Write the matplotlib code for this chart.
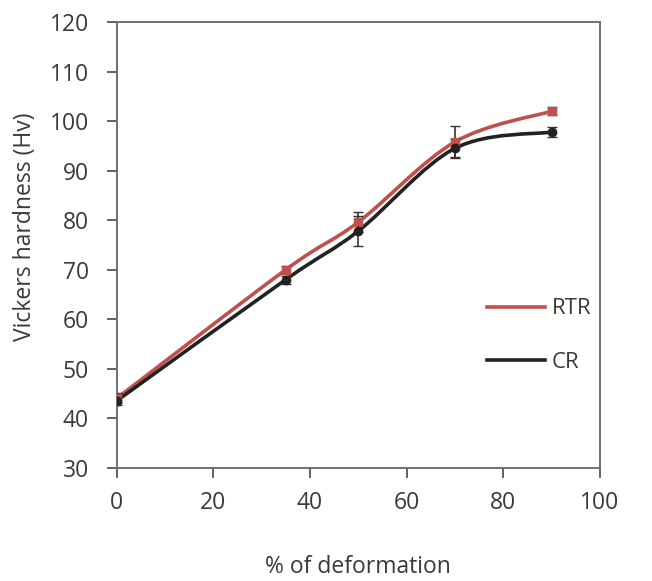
import numpy as np
import matplotlib
matplotlib.use("Agg")
import matplotlib.pyplot as plt
from matplotlib.path import Path
from matplotlib.patches import PathPatch

deformation = [0, 35, 50, 70, 90]
rtr = [44.0, 70.0, 79.6, 95.8, 102.0]
rtr_err = [1.0, 0.8, 2.0, 3.2, 0.8]
cr = [43.5, 68.0, 77.8, 94.5, 97.8]
cr_err = [0.8, 0.8, 3.0, 1.8, 1.0]

x_ticks = [0, 20, 40, 60, 80, 100]
y_ticks = [30, 40, 50, 60, 70, 80, 90, 100, 110, 120]

plt.rcParams["font.family"] = ["Open Sans", "DejaVu Sans"]


def smooth_path(xs, ys, k=1 / 6):
    # Excel-style smoothed line: cubic Bezier segments with Catmull-Rom handles
    pts = np.column_stack([xs, ys]).astype(float)
    verts = [pts[0]]
    codes = [Path.MOVETO]
    n = len(pts)
    for i in range(n - 1):
        p0 = pts[i - 1] if i > 0 else pts[i]
        p1, p2 = pts[i], pts[i + 1]
        p3 = pts[i + 2] if i + 2 < n else pts[i + 1]
        verts += [p1 + (p2 - p0) * k, p2 - (p3 - p1) * k, p2]
        codes += [Path.CURVE4] * 3
    return Path(verts, codes)


fig = plt.figure(figsize=(6.52, 5.81), dpi=100)
ax = fig.add_axes([0.179, 0.195, 0.741, 0.767])

series = [
    ("RTR", rtr, rtr_err, "#c0504d", "s"),
    ("CR", cr, cr_err, "#222222", "o"),
]
for label, vals, err, color, marker in series:
    ax.add_patch(PathPatch(smooth_path(deformation, vals), facecolor="none",
                           edgecolor=color, lw=2.6, zorder=3))
    ax.plot([], [], color=color, lw=2.6, label=label)
    ax.errorbar(deformation, vals, yerr=err, fmt=marker, color=color,
                ms=6, ecolor="#333333", elinewidth=1.2, capsize=3.5, zorder=4)

ax.set_xlim(0, 100)
ax.set_ylim(30, 120)
ax.set_xticks(x_ticks)
ax.set_yticks(y_ticks)
ax.tick_params(direction="out", length=7, width=1.3, color="#555555",
               labelcolor="#3a3a3a", labelsize=16.5)
ax.tick_params(axis="y", pad=13)
ax.tick_params(axis="x", pad=10)
for s in ax.spines.values():
    s.set_color("#707070")
    s.set_linewidth(1.4)

ax.set_xlabel("% of deformation", fontsize=16.5, color="#3a3a3a")
ax.set_ylabel("Vickers hardness (Hv)", fontsize=16.5, color="#3a3a3a")
ax.xaxis.set_label_coords(0.5, -0.195)
ax.yaxis.set_label_coords(-0.166, 0.54)

ax.legend(loc="upper left", bbox_to_anchor=(0.725, 0.425), frameon=False,
          fontsize=16, handlelength=2.6, labelspacing=1.45, handletextpad=0.3,
          labelcolor="#3a3a3a")

fig.savefig("out.png", dpi=100)
